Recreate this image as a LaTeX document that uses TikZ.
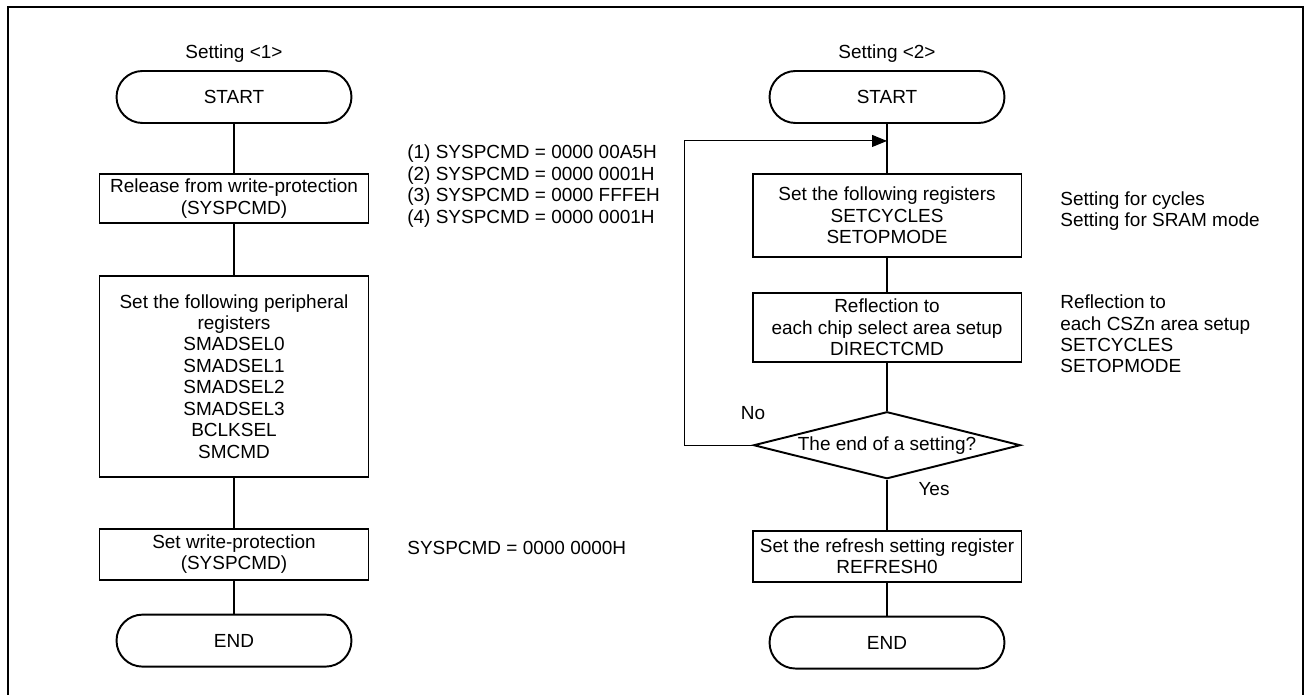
\documentclass[tikz,border=0pt]{standalone}
\usepackage{fontspec}
\setmainfont{Liberation Sans}
\usetikzlibrary{shapes.geometric, arrows.meta, positioning}

\begin{document}
\begin{tikzpicture}[
  x=0.02cm, y=-0.02cm,
  font=\fontsize{10.8}{12.2}\selectfont,
  node distance=0.5cm,
  term/.style={rectangle, rounded corners=0.52cm, minimum width=4.7cm,
               minimum height=1.04cm, draw, line width=1.1pt},
  proc/.style={rectangle, minimum width=5.38cm, align=center,
               inner sep=2pt, draw, line width=1.1pt},
  dec/.style={diamond, aspect=4, minimum width=5.34cm, minimum height=1.34cm,
              inner sep=0pt, draw, line width=1.1pt},
  link/.style={line width=0.6pt},
  arr/.style={link, -{Triangle[length=0.3cm, width=0.24cm]}},
  note/.style={anchor=west, align=left, inner sep=0pt},
  frame/.style={line width=1.1pt},
]
  \useasboundingbox (0,0) rectangle (1311,695);
  \draw[frame] (8,695) -- (8,7) -- (1303,7) -- (1303,695);

  % Setting <1>
  \node (title1) at (234,54) {Setting <1>};
  \node[term] (start1) at (234,97) {START};
  \node[proc, minimum height=0.98cm, below=0.98cm of start1] (release)
       {Release from write-protection\\(SYSPCMD)};
  \node[proc, minimum height=4.02cm, below=1.02cm of release] (periph)
       {Set the following peripheral\\registers\\SMADSEL0\\SMADSEL1\\SMADSEL2\\SMADSEL3\\BCLKSEL\\SMCMD};
  \node[proc, minimum height=1.02cm, below=1.0cm of periph] (protect)
       {Set write-protection\\(SYSPCMD)};
  \node[term, below=0.66cm of protect] (end1) {END};

  \draw[link] (start1) -- (release);
  \draw[link] (release) -- (periph);
  \draw[link] (periph) -- (protect);
  \draw[link] (protect) -- (end1);

  \node[note] (unlock) at (407,186)
       {(1) SYSPCMD = 0000 00A5H\\(2) SYSPCMD = 0000 0001H\\(3) SYSPCMD = 0000 FFFEH\\(4) SYSPCMD = 0000 0001H};
  \node[note] (lock) at (407,548) {SYSPCMD = 0000 0000H};

  % Setting <2>
  \node (title2) at (887,54) {Setting <2>};
  \node[term] (start2) at (887,97) {START};
  \node[proc, minimum height=1.66cm, below=0.98cm of start2] (setregs)
       {Set the following registers\\SETCYCLES\\SETOPMODE};
  \node[proc, minimum height=1.38cm, below=0.68cm of setregs] (reflect)
       {Reflection to\\each chip select area setup\\DIRECTCMD};
  \node[dec, below=0.96cm of reflect] (done) {The end of a setting?};
  \node[proc, minimum height=1.02cm, below=1.0cm of done] (refresh)
       {Set the refresh setting register\\REFRESH0};
  \node[term, below=0.66cm of refresh] (end2) {END};

  \coordinate (join) at ([yshift=-0.34cm]start2.south);

  \draw[link] (start2) -- (setregs);
  \draw[link] (setregs) -- (reflect);
  \draw[link] (reflect) -- (done);
  \draw[link] (done) -- (refresh);
  \draw[link] (refresh) -- (end2);
  \draw[arr] (done.west) -- ++(-1.36cm,0) |- (join);

  \node (no) at (753,413) {No};
  \node (yes) at (934,489) {Yes};

  \node[note] (cycles) at (1060,211) {Setting for cycles\\Setting for SRAM mode};
  \node[note] (areas) at (1060,334)
       {Reflection to\\each CSZn area setup\\SETCYCLES\\SETOPMODE};
\end{tikzpicture}
\end{document}
